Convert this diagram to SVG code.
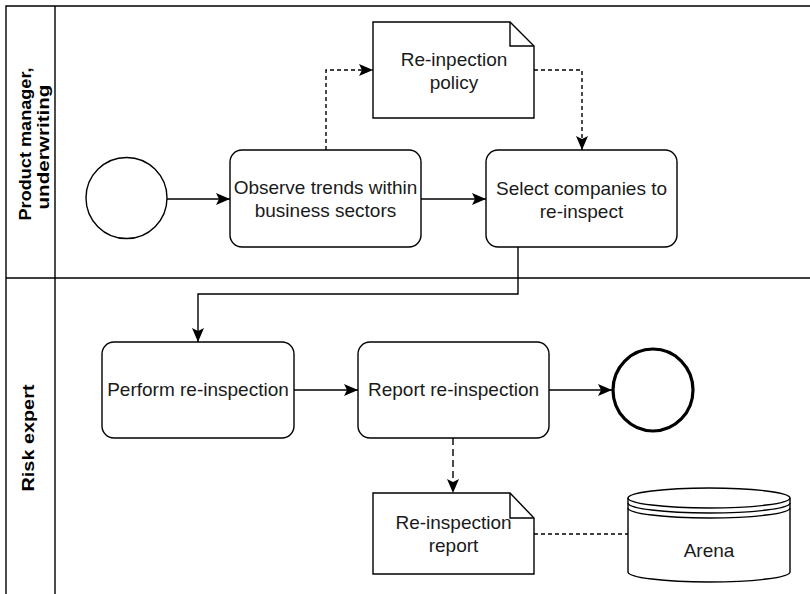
<svg xmlns="http://www.w3.org/2000/svg" width="810" height="594" viewBox="0 0 810 594">
<style>
.ln{fill:none;stroke:#000;stroke-width:1.4}
.sh{fill:#fff;stroke:#000;stroke-width:1.4}
.t{font-family:"Liberation Sans",Arial,sans-serif;font-size:19px;fill:#1a1a1a;text-anchor:middle}
.h{font-family:"Liberation Sans",Arial,sans-serif;font-size:17px;font-weight:bold;fill:#000;text-anchor:middle}
.d1{stroke-dasharray:4 3}
.d2{stroke-dasharray:7 4}
</style>
<defs>
<marker id="arr" viewBox="0 0 14 12" refX="14" refY="6" markerWidth="14" markerHeight="12" markerUnits="userSpaceOnUse" orient="auto">
<path d="M0,0 L14,6 L0,12 L3,6 Z" fill="#000"/>
</marker>
</defs>
<rect width="810" height="594" fill="#fff"/>
<g id="pool">
<path class="ln" d="M815,6 H6 V600 M55,6 V600 M6,278 H815"/>
<text class="h" transform="translate(31,144) rotate(-90)" textLength="153" lengthAdjust="spacingAndGlyphs">Product manager,</text>
<text class="h" transform="translate(49,147) rotate(-90)" textLength="125" lengthAdjust="spacingAndGlyphs">underwriting</text>
<text class="h" transform="translate(34,438) rotate(-90)" textLength="107" lengthAdjust="spacingAndGlyphs">Risk expert</text>
</g>
<g id="connectors">
<path class="ln" d="M167,199 H230" marker-end="url(#arr)"/>
<path class="ln" d="M421,199 H486" marker-end="url(#arr)"/>
<path class="ln d1" d="M326,150 V70 H373" marker-end="url(#arr)"/>
<path class="ln d1" d="M534,70 H582 V150" marker-end="url(#arr)"/>
<path class="ln" d="M518,247 V294 H198 V342" marker-end="url(#arr)"/>
<path class="ln" d="M294,390 H358" marker-end="url(#arr)"/>
<path class="ln" d="M549,390 H612" marker-end="url(#arr)"/>
<path class="ln d2" d="M453,438 V493" marker-end="url(#arr)"/>
<path class="ln d1" d="M534,534 H628"/>
</g>
<g id="start">
<circle class="sh" cx="126.5" cy="198" r="40.5"/>
</g>
<g id="observe">
<rect class="sh" x="230" y="150" width="191" height="97" rx="12"/>
<text class="t" x="325.5" y="194">Observe trends within</text>
<text class="t" x="325.5" y="217">business sectors</text>
</g>
<g id="policy">
<path class="sh" d="M373,22 H510 L534,46 V118 H373 Z"/>
<path class="ln" d="M510,22 V46 H534"/>
<text class="t" x="454" y="66">Re-inpection</text>
<text class="t" x="454" y="89">policy</text>
</g>
<g id="select">
<rect class="sh" x="486" y="150" width="191" height="97" rx="12"/>
<text class="t" x="581.5" y="195">Select companies to</text>
<text class="t" x="581.5" y="218">re-inspect</text>
</g>
<g id="perform">
<rect class="sh" x="102" y="342" width="192" height="96" rx="12"/>
<text class="t" x="198" y="396">Perform re-inspection</text>
</g>
<g id="report">
<rect class="sh" x="358" y="342" width="191" height="96" rx="12"/>
<text class="t" x="453.5" y="396">Report re-inspection</text>
</g>
<g id="end">
<ellipse cx="653" cy="390" rx="40" ry="41" fill="#fff" stroke="#000" stroke-width="3.2"/>
</g>
<g id="reportdoc">
<path class="sh" d="M373,493 H510 L534,518 V574 H373 Z"/>
<path class="ln" d="M510,493 V518 H534"/>
<text class="t" x="453.5" y="529">Re-inspection</text>
<text class="t" x="453.5" y="552">report</text>
</g>
<g id="arena">
<path class="sh" d="M628,498 A81,10 0 0 1 790,498 V572 A81,10 0 0 1 628,572 Z"/>
<path class="ln" d="M628,498 A81,10 0 0 0 790,498 M628,503 A81,10 0 0 0 790,503 M628,508 A81,10 0 0 0 790,508"/>
<text class="t" x="709" y="557">Arena</text>
</g>
</svg>
